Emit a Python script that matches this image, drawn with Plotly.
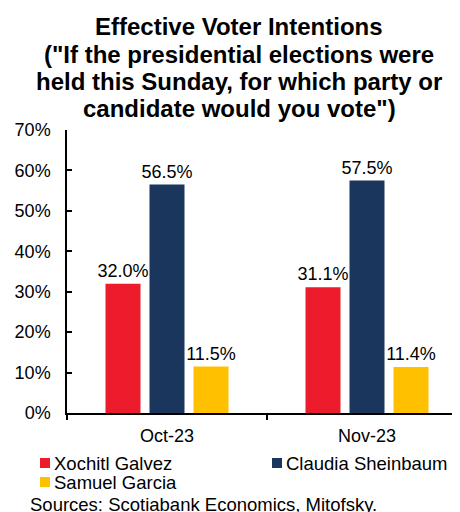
import plotly.graph_objects as go

# ---- data ----
categories = ["Oct-23", "Nov-23"]
series_names = ["Xochitl Galvez", "Claudia Sheinbaum", "Samuel Garcia"]
xochitl = [32.0, 31.1]
claudia = [56.5, 57.5]
samuel = [11.5, 11.4]
series_values = [xochitl, claudia, samuel]
colors = ["#EC1C2D", "#1B365D", "#FFC000"]
y_ticks = [0, 10, 20, 30, 40, 50, 60, 70]
y_tick_labels = [f"{v}%" for v in y_ticks]
title_lines = [
    "Effective Voter Intentions",
    "(\"If the presidential elections were",
    "held this Sunday, for which party or",
    "candidate would you vote\")",
]
source_text = "Sources: Scotiabank Economics, Mitofsky."

FONT = "Liberation Sans, Arial, sans-serif"
OFF = 8  # page body margin
PAGE_W, PAGE_H = 460, 512
W, H = PAGE_W - OFF, PAGE_H - OFF
# plot area in page pixels
P_LEFT, P_TOP, P_BOTTOM, P_RIGHT = 67, 130, 413, 460
L = P_LEFT - OFF
T = P_TOP - OFF
B = H - (P_BOTTOM - OFF)
PLOT_W = (P_RIGHT - OFF) - L
PLOT_H = H - T - B


def px_x(px):
    return (px - P_LEFT) / PLOT_W


def px_y(py):
    return (P_BOTTOM - py) / PLOT_H


fig = go.Figure()
for name, vals, col in zip(series_names, series_values, colors):
    fig.add_trace(go.Bar(
        x=categories, y=vals, name=name, marker=dict(color=col, line=dict(width=0)),
        texttemplate="%{y:.1f}%", textposition="outside", constraintext="none",
        cliponaxis=False, textfont=dict(family=FONT, size=18, color="#000000"),
        showlegend=False,
    ))

annotations = []
title_y = [26.3, 54.5, 81, 108.3]
for line, yy in zip(title_lines, title_y):
    annotations.append(dict(
        text=f"<b>{line}</b>", x=px_x(239), y=px_y(yy), xref="paper", yref="paper",
        xanchor="center", yanchor="middle", showarrow=False,
        font=dict(family=FONT, size=24, color="#000000"),
    ))

# legend (manual, to match layout)
leg_pos = [(40, 463), (272, 463), (40, 482)]
shapes = []
for name, col, (lx, ly) in zip(series_names, colors, leg_pos):
    shapes.append(dict(type="rect", xref="paper", yref="paper",
                       x0=px_x(lx), x1=px_x(lx + 10), y0=px_y(ly + 5), y1=px_y(ly - 5),
                       fillcolor=col, line=dict(width=0)))
    annotations.append(dict(
        text=name, x=px_x(lx + 12), y=px_y(ly), xref="paper", yref="paper",
        xanchor="left", yanchor="middle", showarrow=False,
        font=dict(family=FONT, size=18.5, color="#000000"),
    ))

annotations.append(dict(
    text=source_text, x=px_x(28), y=px_y(504), xref="paper", yref="paper",
    xanchor="left", yanchor="middle", showarrow=False,
    font=dict(family=FONT, size=18.5, color="#000000"),
))

fig.update_layout(
    width=W, height=H,
    margin=dict(l=L, r=0, t=T, b=B, pad=0),
    paper_bgcolor="white", plot_bgcolor="white",
    barmode="group", bargap=0.34, bargroupgap=0.2045,
    font=dict(family=FONT, size=18, color="#000000"),
    annotations=annotations, shapes=shapes,
    xaxis=dict(
        range=[-0.5, 1.465], showline=True, linecolor="#000000", linewidth=1.5,
        ticks="outside", ticklen=5, tickwidth=1.5, tickcolor="#000000",
        tickson="boundaries", showgrid=False, zeroline=False,
        tickfont=dict(family=FONT, size=18), ticklabelstandoff=6,
    ),
    yaxis=dict(
        range=[0, 70], tickvals=y_ticks, ticktext=y_tick_labels,
        showline=True, linecolor="#000000", linewidth=1.5,
        ticks="inside", ticklen=5, tickwidth=1.5, tickcolor="#000000",
        showgrid=False, zeroline=False,
        tickfont=dict(family=FONT, size=18), ticklabelstandoff=11,
    ),
)

fig.write_html("out.html")
